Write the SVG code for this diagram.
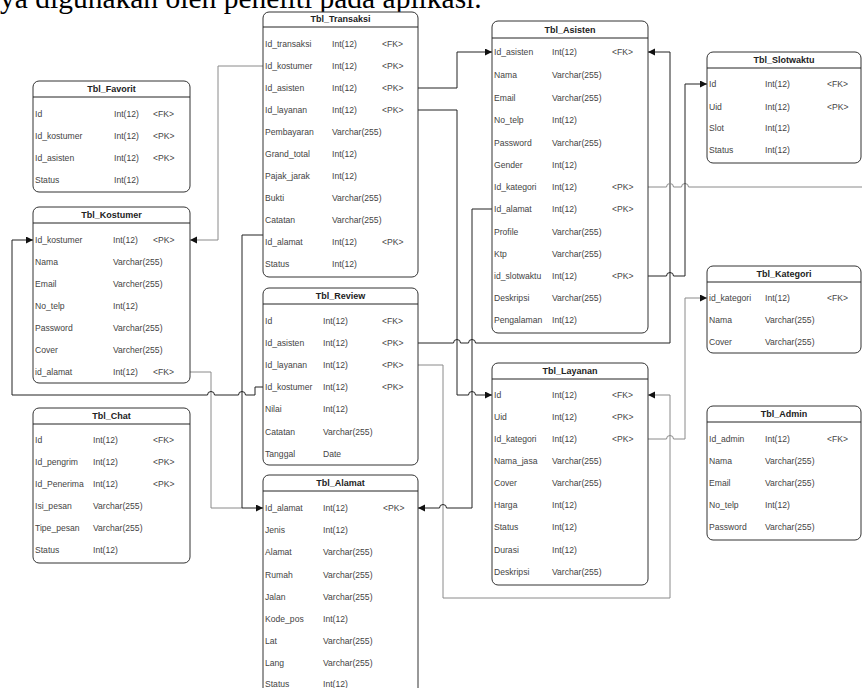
<svg xmlns="http://www.w3.org/2000/svg" width="862" height="688" viewBox="0 0 862 688">
<defs>
<marker id="ar" markerUnits="userSpaceOnUse" markerWidth="8" markerHeight="8" refX="7" refY="3.5" orient="auto">
<path d="M0,0 L7,3.5 L0,7 Z" fill="#111"/>
</marker>
<style>
.box{fill:#fff;stroke:#333;stroke-width:1}
.hd{stroke:#222;stroke-width:1}
.t{font-family:"Liberation Sans",Arial,sans-serif;font-size:8.6px;fill:#444}
.ttl{font-family:"Liberation Sans",Arial,sans-serif;font-size:9px;font-weight:bold;fill:#222;text-anchor:middle}
.c{fill:none;stroke:#222;stroke-width:1}
.g{fill:none;stroke:#8a8a8a;stroke-width:1}
.top{font-family:"Liberation Serif","Times New Roman",serif;font-size:29.5px;fill:#000}
</style>
</defs>
<rect width="862" height="688" fill="#fff"/>
<text class="top" x="0" y="7.5">ya digunakan oleh peneliti pada aplikasi.</text>

<g id="connectors">
<path class="g" d="M263,66 H218 V240 H190" marker-end="url(#ar)"/>
<path class="c" d="M418,88 H457 V52 H492" marker-end="url(#ar)"/>
<path class="c" d="M418,110 H457 V395 H468.5 A3.5,3.5 0 0 1 475.5,395 H492" marker-end="url(#ar)"/>
<path class="g" d="M190,372 H211 V508 H242"/>
<path class="c" d="M263,235 H242 V508 H263" marker-end="url(#ar)"/>
<path class="c" d="M263,387 H255 V395 H245.5 A3.5,3.5 0 0 0 238.5,395 H214.5 A3.5,3.5 0 0 0 207.5,395 H12 V240 H33" marker-end="url(#ar)"/>
<path class="c" d="M418,343 H453.5 A3.5,3.5 0 0 1 460.5,343 H468.5 A3.5,3.5 0 0 1 475.5,343 H670 V52 H648" marker-end="url(#ar)"/>
<path class="g" d="M418,365 H443 V598 H670 V395 H648" marker-end="url(#ar)"/>
<path class="c" d="M492,209 H472 V508 H446.5 A3.5,3.5 0 0 0 439.5,508 H418" marker-end="url(#ar)"/>
<path class="g" d="M648,187 H666.5 A3.5,3.5 0 0 1 673.5,187 H681.5 A3.5,3.5 0 0 1 688.5,187 H862"/>
<path class="c" d="M648,276 H666.5 A3.5,3.5 0 0 1 673.5,276 H685 V84 H707" marker-end="url(#ar)"/>
<path class="g" d="M648,439 H666.5 A3.5,3.5 0 0 1 673.5,439 H685 V298 H707" marker-end="url(#ar)"/>
</g>

<g id="tbl_favorit">
<rect class="box" x="33" y="81" width="157" height="111" rx="6"/>
<line class="hd" x1="33" y1="97" x2="190" y2="97"/>
<text class="ttl" x="111.5" y="92">Tbl_Favorit</text>
<text class="t" x="35" y="117">Id</text><text class="t" x="114" y="117">Int(12)</text><text class="t" x="153" y="117">&lt;FK&gt;</text>
<text class="t" x="35" y="139">Id_kostumer</text><text class="t" x="114" y="139">Int(12)</text><text class="t" x="153" y="139">&lt;PK&gt;</text>
<text class="t" x="35" y="161">Id_asisten</text><text class="t" x="114" y="161">Int(12)</text><text class="t" x="153" y="161">&lt;PK&gt;</text>
<text class="t" x="35" y="183">Status</text><text class="t" x="114" y="183">Int(12)</text>
</g>

<g id="tbl_kostumer">
<rect class="box" x="33" y="207" width="157" height="176" rx="6"/>
<line class="hd" x1="33" y1="223" x2="190" y2="223"/>
<text class="ttl" x="111.5" y="218">Tbl_Kostumer</text>
<text class="t" x="35" y="243">Id_kostumer</text><text class="t" x="113" y="243">Int(12)</text><text class="t" x="153" y="243">&lt;PK&gt;</text>
<text class="t" x="35" y="265">Nama</text><text class="t" x="113" y="265">Varchar(255)</text>
<text class="t" x="35" y="287">Email</text><text class="t" x="113" y="287">Varcher(255)</text>
<text class="t" x="35" y="309">No_telp</text><text class="t" x="113" y="309">Int(12)</text>
<text class="t" x="35" y="331">Password</text><text class="t" x="113" y="331">Varchar(255)</text>
<text class="t" x="35" y="353">Cover</text><text class="t" x="113" y="353">Varcher(255)</text>
<text class="t" x="35" y="375">id_alamat</text><text class="t" x="113" y="375">Int(12)</text><text class="t" x="153" y="375">&lt;FK&gt;</text>
</g>

<g id="tbl_chat">
<rect class="box" x="33" y="408" width="157" height="155" rx="6"/>
<line class="hd" x1="33" y1="424" x2="190" y2="424"/>
<text class="ttl" x="111.5" y="419">Tbl_Chat</text>
<text class="t" x="35" y="443">Id</text><text class="t" x="93" y="443">Int(12)</text><text class="t" x="153" y="443">&lt;FK&gt;</text>
<text class="t" x="35" y="465">Id_pengrim</text><text class="t" x="93" y="465">Int(12)</text><text class="t" x="153" y="465">&lt;PK&gt;</text>
<text class="t" x="35" y="487">Id_Penerima</text><text class="t" x="93" y="487">Int(12)</text><text class="t" x="153" y="487">&lt;PK&gt;</text>
<text class="t" x="35" y="509">Isi_pesan</text><text class="t" x="93" y="509">Varchar(255)</text>
<text class="t" x="35" y="531">Tipe_pesan</text><text class="t" x="93" y="531">Varchar(255)</text>
<text class="t" x="35" y="553">Status</text><text class="t" x="93" y="553">Int(12)</text>
</g>

<g id="tbl_transaksi">
<rect class="box" x="263" y="12" width="155" height="265" rx="6"/>
<line class="hd" x1="263" y1="27" x2="418" y2="27"/>
<text class="ttl" x="340.5" y="22">Tbl_Transaksi</text>
<text class="t" x="265" y="47">Id_transaksi</text><text class="t" x="332" y="47">Int(12)</text><text class="t" x="382" y="47">&lt;FK&gt;</text>
<text class="t" x="265" y="69">Id_kostumer</text><text class="t" x="332" y="69">Int(12)</text><text class="t" x="382" y="69">&lt;PK&gt;</text>
<text class="t" x="265" y="91">Id_asisten</text><text class="t" x="332" y="91">Int(12)</text><text class="t" x="382" y="91">&lt;PK&gt;</text>
<text class="t" x="265" y="113">Id_layanan</text><text class="t" x="332" y="113">Int(12)</text><text class="t" x="382" y="113">&lt;PK&gt;</text>
<text class="t" x="265" y="135">Pembayaran</text><text class="t" x="332" y="135">Varchar(255)</text>
<text class="t" x="265" y="157">Grand_total</text><text class="t" x="332" y="157">Int(12)</text>
<text class="t" x="265" y="179">Pajak_jarak</text><text class="t" x="332" y="179">Int(12)</text>
<text class="t" x="265" y="201">Bukti</text><text class="t" x="332" y="201">Varchar(255)</text>
<text class="t" x="265" y="223">Catatan</text><text class="t" x="332" y="223">Varchar(255)</text>
<text class="t" x="265" y="245">Id_alamat</text><text class="t" x="332" y="245">Int(12)</text><text class="t" x="382" y="245">&lt;PK&gt;</text>
<text class="t" x="265" y="267">Status</text><text class="t" x="332" y="267">Int(12)</text>
</g>

<g id="tbl_review">
<rect class="box" x="263" y="288" width="155" height="177" rx="6"/>
<line class="hd" x1="263" y1="304" x2="418" y2="304"/>
<text class="ttl" x="340.5" y="299">Tbl_Review</text>
<text class="t" x="265" y="324">Id</text><text class="t" x="323" y="324">Int(12)</text><text class="t" x="382" y="324">&lt;FK&gt;</text>
<text class="t" x="265" y="346">Id_asisten</text><text class="t" x="323" y="346">Int(12)</text><text class="t" x="382" y="346">&lt;PK&gt;</text>
<text class="t" x="265" y="368">Id_layanan</text><text class="t" x="323" y="368">Int(12)</text><text class="t" x="382" y="368">&lt;PK&gt;</text>
<text class="t" x="265" y="390">Id_kostumer</text><text class="t" x="323" y="390">Int(12)</text><text class="t" x="382" y="390">&lt;PK&gt;</text>
<text class="t" x="265" y="412">Nilai</text><text class="t" x="323" y="412">Int(12)</text>
<text class="t" x="265" y="435">Catatan</text><text class="t" x="323" y="435">Varchar(255)</text>
<text class="t" x="265" y="457">Tanggal</text><text class="t" x="323" y="457">Date</text>
</g>

<g id="tbl_alamat">
<rect class="box" x="263" y="475" width="155" height="230" rx="6"/>
<line class="hd" x1="263" y1="491" x2="418" y2="491"/>
<text class="ttl" x="340.5" y="486">Tbl_Alamat</text>
<text class="t" x="265" y="511">Id_alamat</text><text class="t" x="323" y="511">Int(12)</text><text class="t" x="383" y="511">&lt;PK&gt;</text>
<text class="t" x="265" y="533">Jenis</text><text class="t" x="323" y="533">Int(12)</text>
<text class="t" x="265" y="555">Alamat</text><text class="t" x="323" y="555">Varchar(255)</text>
<text class="t" x="265" y="578">Rumah</text><text class="t" x="323" y="578">Varchar(255)</text>
<text class="t" x="265" y="600">Jalan</text><text class="t" x="323" y="600">Varchar(255)</text>
<text class="t" x="265" y="622">Kode_pos</text><text class="t" x="323" y="622">Int(12)</text>
<text class="t" x="265" y="644">Lat</text><text class="t" x="323" y="644">Varchar(255)</text>
<text class="t" x="265" y="666">Lang</text><text class="t" x="323" y="666">Varchar(255)</text>
<text class="t" x="265" y="687">Status</text><text class="t" x="323" y="687">Int(12)</text>
</g>

<g id="tbl_asisten">
<rect class="box" x="492" y="21" width="156" height="312" rx="6"/>
<line class="hd" x1="492" y1="38" x2="648" y2="38"/>
<text class="ttl" x="570" y="33">Tbl_Asisten</text>
<text class="t" x="494" y="55">Id_asisten</text><text class="t" x="552" y="55">Int(12)</text><text class="t" x="612" y="55">&lt;FK&gt;</text>
<text class="t" x="494" y="78">Nama</text><text class="t" x="552" y="78">Varchar(255)</text>
<text class="t" x="494" y="101">Email</text><text class="t" x="552" y="101">Varchar(255)</text>
<text class="t" x="494" y="123">No_telp</text><text class="t" x="552" y="123">Int(12)</text>
<text class="t" x="494" y="146">Password</text><text class="t" x="552" y="146">Varchar(255)</text>
<text class="t" x="494" y="168">Gender</text><text class="t" x="552" y="168">Int(12)</text>
<text class="t" x="494" y="190">Id_kategori</text><text class="t" x="552" y="190">Int(12)</text><text class="t" x="612" y="190">&lt;PK&gt;</text>
<text class="t" x="494" y="212">Id_alamat</text><text class="t" x="552" y="212">Int(12)</text><text class="t" x="612" y="212">&lt;PK&gt;</text>
<text class="t" x="494" y="235">Profile</text><text class="t" x="552" y="235">Varchar(255)</text>
<text class="t" x="494" y="257">Ktp</text><text class="t" x="552" y="257">Varchar(255)</text>
<text class="t" x="494" y="279">id_slotwaktu</text><text class="t" x="552" y="279">Int(12)</text><text class="t" x="612" y="279">&lt;PK&gt;</text>
<text class="t" x="494" y="301">Deskripsi</text><text class="t" x="552" y="301">Varchar(255)</text>
<text class="t" x="494" y="323">Pengalaman</text><text class="t" x="552" y="323">Int(12)</text>
</g>

<g id="tbl_layanan">
<rect class="box" x="492" y="363" width="156" height="222" rx="6"/>
<line class="hd" x1="492" y1="379" x2="648" y2="379"/>
<text class="ttl" x="570" y="374">Tbl_Layanan</text>
<text class="t" x="494" y="398">Id</text><text class="t" x="552" y="398">Int(12)</text><text class="t" x="612" y="398">&lt;FK&gt;</text>
<text class="t" x="494" y="420">Uid</text><text class="t" x="552" y="420">Int(12)</text><text class="t" x="612" y="420">&lt;PK&gt;</text>
<text class="t" x="494" y="442">Id_kategori</text><text class="t" x="552" y="442">Int(12)</text><text class="t" x="612" y="442">&lt;PK&gt;</text>
<text class="t" x="494" y="464">Nama_jasa</text><text class="t" x="552" y="464">Varchar(255)</text>
<text class="t" x="494" y="486">Cover</text><text class="t" x="552" y="486">Varchar(255)</text>
<text class="t" x="494" y="508">Harga</text><text class="t" x="552" y="508">Int(12)</text>
<text class="t" x="494" y="530">Status</text><text class="t" x="552" y="530">Int(12)</text>
<text class="t" x="494" y="553">Durasi</text><text class="t" x="552" y="553">Int(12)</text>
<text class="t" x="494" y="575">Deskripsi</text><text class="t" x="552" y="575">Varchar(255)</text>
</g>

<g id="tbl_slotwaktu">
<rect class="box" x="707" y="52" width="154" height="111" rx="6"/>
<line class="hd" x1="707" y1="68" x2="861" y2="68"/>
<text class="ttl" x="784" y="63">Tbl_Slotwaktu</text>
<text class="t" x="709" y="87">Id</text><text class="t" x="765" y="87">Int(12)</text><text class="t" x="827" y="87">&lt;FK&gt;</text>
<text class="t" x="709" y="110">Uid</text><text class="t" x="765" y="110">Int(12)</text><text class="t" x="827" y="110">&lt;PK&gt;</text>
<text class="t" x="709" y="131">Slot</text><text class="t" x="765" y="131">Int(12)</text>
<text class="t" x="709" y="153">Status</text><text class="t" x="765" y="153">Int(12)</text>
</g>

<g id="tbl_kategori">
<rect class="box" x="707" y="266" width="154" height="87" rx="6"/>
<line class="hd" x1="707" y1="282" x2="861" y2="282"/>
<text class="ttl" x="784" y="277">Tbl_Kategori</text>
<text class="t" x="709" y="301">id_kategori</text><text class="t" x="765" y="301">Int(12)</text><text class="t" x="827" y="301">&lt;FK&gt;</text>
<text class="t" x="709" y="323">Nama</text><text class="t" x="765" y="323">Varchar(255)</text>
<text class="t" x="709" y="345">Cover</text><text class="t" x="765" y="345">Varchar(255)</text>
</g>

<g id="tbl_admin">
<rect class="box" x="707" y="406" width="154" height="134" rx="6"/>
<line class="hd" x1="707" y1="422" x2="861" y2="422"/>
<text class="ttl" x="784" y="417">Tbl_Admin</text>
<text class="t" x="709" y="442">Id_admin</text><text class="t" x="765" y="442">Int(12)</text><text class="t" x="827" y="442">&lt;FK&gt;</text>
<text class="t" x="709" y="464">Nama</text><text class="t" x="765" y="464">Varchar(255)</text>
<text class="t" x="709" y="486">Email</text><text class="t" x="765" y="486">Varchar(255)</text>
<text class="t" x="709" y="508">No_telp</text><text class="t" x="765" y="508">Int(12)</text>
<text class="t" x="709" y="530">Password</text><text class="t" x="765" y="530">Varchar(255)</text>
</g>
</svg>
